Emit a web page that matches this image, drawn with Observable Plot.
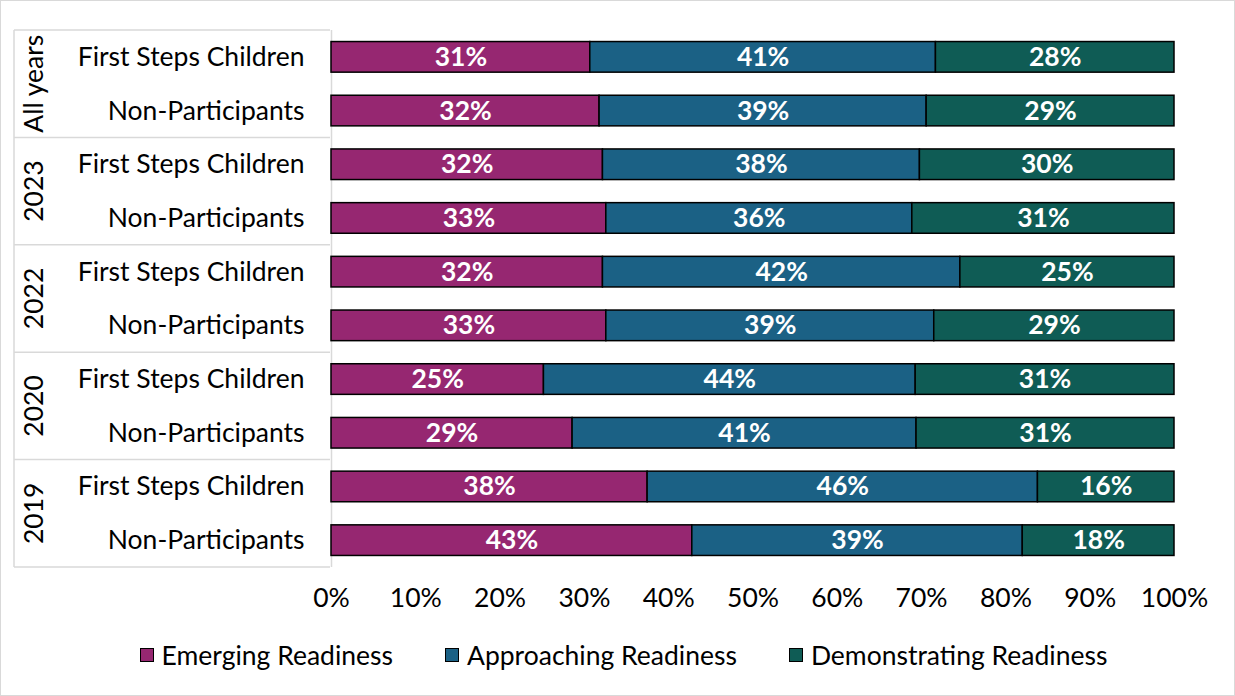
<!DOCTYPE html>
<html>
<head>
<meta charset="utf-8">
<script src="https://cdn.jsdelivr.net/npm/d3@7"></script>
<script src="https://cdn.jsdelivr.net/npm/@observablehq/plot@0.6"></script>
<style>
  html, body { margin: 0; padding: 0; background: #fff; }
  #frame { box-sizing: border-box; width: 1235px; height: 696px; border: 1px solid #d9d9d9; font-family: Lato, sans-serif; color: #000; overflow: hidden; }
  #legend { display: flex; justify-content: center; align-items: center; gap: 52px; font-size: 26.5px; padding-top: 8px; padding-left: 12px; }
  .item { display: flex; align-items: center; }
  .sw { width: 12px; height: 12px; border: 1px solid #000; margin-right: 8px; }
</style>
</head>
<body>
<div id="frame"><div id="chart"></div><div id="legend"></div></div>
<script>
const groups = ["All years", "2023", "2022", "2020", "2019"];
const participants = ["First Steps Children", "Non-Participants"];
const series = ["Emerging Readiness", "Approaching Readiness", "Demonstrating Readiness"];
const colors = ["#962771", "#1b6185", "#0f5c55"];
const xTicks = [0, 10, 20, 30, 40, 50, 60, 70, 80, 90, 100];

// rows in order: for each group, First Steps Children then Non-Participants
const emerging      = [30.7, 31.8, 32.2, 32.6, 32.2, 32.6, 25.2, 28.6, 37.5, 42.8];
const approaching   = [41.0, 38.8, 37.6, 36.3, 42.4, 38.9, 44.1, 40.8, 46.3, 39.2];
const demonstrating = [28.3, 29.4, 30.2, 31.1, 25.4, 28.5, 30.7, 30.6, 16.2, 18.0];

const keys = [];
groups.forEach(g => participants.forEach(p => keys.push(g + "|" + p)));
const seriesValues = [emerging, approaching, demonstrating];
const data = [];
keys.forEach((k, i) => series.forEach((s, j) => data.push({key: k, series: s, value: seriesValues[j][i]})));

const FS = 26.5;
const plot = Plot.plot({
  width: 1233,
  height: 630,
  marginLeft: 330,
  marginRight: 60,
  marginTop: 29,
  marginBottom: 64,
  style: {fontFamily: "Lato, sans-serif", fontSize: FS + "px", color: "#000", background: "transparent"},
  x: {domain: [0, 100], ticks: xTicks, tickFormat: d => d + "%", tickSize: 0, tickPadding: 21, label: null},
  y: {domain: keys, paddingInner: 0.43, paddingOuter: 0.215, round: false, tickFormat: k => k.split("|")[1], tickSize: 0, tickPadding: 27, label: null},
  color: {domain: series, range: colors},
  marks: [
    Plot.ruleX([0], {stroke: "#d9d9d9", strokeWidth: 1.5}),
    Plot.barX(data, Plot.stackX({x: "value", y: "key", fill: "series", stroke: "#000", strokeWidth: 1.5})),
    Plot.text(data, Plot.stackX({x: "value", y: "key", text: d => Math.round(d.value) + "%", fill: "#fff", fontWeight: "bold", fontSize: FS}))
  ]
});
document.getElementById("chart").appendChild(plot);

// group separators and group labels, positioned from Plot's y scale
const ys = plot.scale("y");
const step = ys.step, bw = ys.bandwidth, gap = (step - bw) / 2;
const svg = d3.select(plot);
const deco = svg.insert("g", ":first-child");
const top0 = ys.apply(keys[0]) - gap;
const bottom = ys.apply(keys[keys.length - 1]) + bw + gap;
deco.append("line").attr("x1", 13).attr("x2", 13).attr("y1", top0).attr("y2", bottom).attr("stroke", "#d9d9d9").attr("stroke-width", 1.5);
groups.forEach((g, i) => {
  const t = ys.apply(keys[2 * i]) - gap;
  const b = ys.apply(keys[2 * i + 1]) + bw + gap;
  deco.append("line").attr("x1", 13).attr("x2", 329).attr("y1", t).attr("y2", t).attr("stroke", "#d9d9d9").attr("stroke-width", 1.5);
  deco.append("text")
    .attr("transform", `translate(32,${(t + b) / 2}) rotate(-90)`)
    .attr("text-anchor", "middle")
    .attr("dominant-baseline", "central")
    .attr("font-size", FS)
    .attr("fill", "#000")
    .text(g);
});
deco.append("line").attr("x1", 13).attr("x2", 329).attr("y1", bottom).attr("y2", bottom).attr("stroke", "#d9d9d9").attr("stroke-width", 1.5);

// legend
const legend = d3.select("#legend");
series.forEach((s, i) => {
  const it = legend.append("div").attr("class", "item");
  it.append("div").attr("class", "sw").style("background", colors[i]);
  it.append("span").text(s);
});
</script>
</body>
</html>
